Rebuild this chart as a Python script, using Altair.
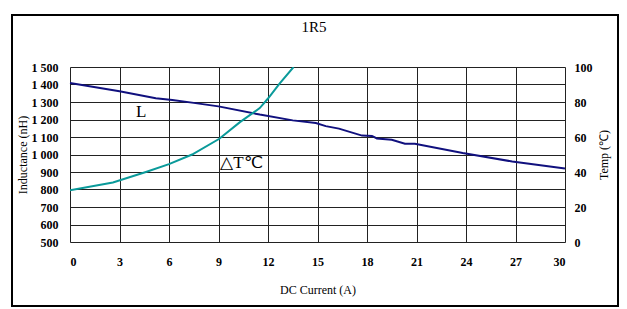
import json
import altair as alt
import pandas as pd

# ---- data ----
l_current = [0, 3, 5.2, 6.2, 7.5, 9, 11.5, 13.5, 14.9, 15.5, 16.3, 17.7, 18.3, 18.6, 19.5, 20.3, 20.9, 23.8, 26.8, 30]
l_induct = [1408, 1362, 1322, 1312, 1295, 1275, 1228, 1195, 1180, 1162, 1148, 1108, 1106, 1092, 1084, 1062, 1061, 1008, 960, 920]

t_current = [0, 2.6, 4.6, 6.0, 7.4, 9.05, 10.3, 11.5, 12.0, 12.7, 13.55]
t_temp = [29.5, 34, 40, 44.5, 50, 59, 68.5, 76.5, 82, 90.5, 100]

x_ticks = [0, 3, 6, 9, 12, 15, 18, 21, 24, 27, 30]
y_ticks = [500, 600, 700, 800, 900, 1000, 1100, 1200, 1300, 1400, 1500]
y_labels = ["500", "600", "700", "800", "900", "1 000", "1 100", "1 200", "1 300", "1 400", "1 500"]
t_ticks = [0, 20, 40, 60, 80, 100]

ann_text = ["L", "△T℃"]
ann_x = [4.0, 9.1]
ann_y = [1214, 923]

chart_title = "1R5"

FONT = "Liberation Serif"
NAVY = "#10107e"
TEAL = "#0a9a9a"

l_df = pd.DataFrame({"I": l_current, "L": l_induct})
t_df = pd.DataFrame({"I": t_current, "T": t_temp})
a_df = pd.DataFrame({"I": ann_x, "L": ann_y, "txt": ann_text})

xscale = alt.Scale(domain=[0, 30], nice=False, zero=False)
lscale = alt.Scale(domain=[500, 1500], nice=False, zero=False)

xaxis = alt.Axis(values=x_ticks, title="DC Current (A)", grid=True, gridColor="#222222",
                 gridOpacity=1, domain=False, ticks=False, labelFont=FONT, labelFontSize=12,
                 labelFontWeight="bold", labelColor="black", labelPadding=14, labelOverlap=False,
                 titleFont=FONT, titleFontSize=12, titleFontWeight="normal", titleColor="black",
                 titleY=47, titleBaseline="middle")

label_expr = json.dumps(y_labels) + "[round((datum.value-500)/100)]"
yaxis = alt.Axis(values=y_ticks, labelExpr=label_expr, title="Inductance (nH)", grid=True,
                 gridColor="#222222", gridOpacity=1, domain=False, ticks=False,
                 labelFont=FONT, labelFontSize=12, labelFontWeight="bold", labelColor="black",
                 labelPadding=12, labelOverlap=False, titleFont=FONT, titleFontSize=12,
                 titleFontWeight="normal", titleColor="black", titleX=-48, titleY=87.5,
                 titleBaseline="middle", titleAngle=-90, orient="left")

taxis = alt.Axis(values=t_ticks, orient="right", title="Temp (℃)", grid=False, domain=False,
                 ticks=False, labelFont=FONT, labelFontSize=12, labelFontWeight="bold",
                 labelColor="black", labelPadding=9, labelOverlap=False, titleFont=FONT,
                 titleFontSize=12, titleFontWeight="normal", titleColor="black", titleX=38,
                 titleY=87.5, titleBaseline="middle", titleAngle=-90)

l_line = alt.Chart(l_df).mark_line(color=NAVY, strokeWidth=2).encode(
    x=alt.X("I:Q", scale=xscale, axis=xaxis),
    y=alt.Y("L:Q", scale=lscale, axis=yaxis),
)

t_line = alt.Chart(t_df).mark_line(color=TEAL, strokeWidth=2, clip=True).encode(
    x=alt.X("I:Q", scale=xscale, axis=xaxis),
    y=alt.Y("T:Q", scale=alt.Scale(domain=[0, 100], nice=False), axis=taxis),
)

ann = alt.Chart(a_df).mark_text(font=FONT, fontSize=17, align="left", baseline="alphabetic",
                                color="black").encode(
    x=alt.X("I:Q", scale=xscale, axis=xaxis),
    y=alt.Y("L:Q", scale=lscale, axis=None),
    text="txt:N",
)

frame = alt.Chart(pd.DataFrame({"t": [chart_title]}))
border = frame.mark_rect(filled=False, stroke="black", strokeWidth=2, clip=False).encode(
    x=alt.value(-58), x2=alt.value(548), y=alt.value(-52), y2=alt.value(239),
)
title_mark = frame.mark_text(font=FONT, fontSize=15, color="black", align="center",
                             baseline="middle").encode(
    x=alt.value(244), y=alt.value(-40), text="t:N",
)

chart = alt.layer(l_line, t_line, ann, border, title_mark).resolve_scale(
    y="independent"
).properties(
    width=495, height=175,
    autosize=alt.AutoSizeParams(type="none"),
    padding={"left": 62, "top": 59, "right": 54, "bottom": 66},
).configure_view(stroke="black", strokeWidth=1.5).configure(background="white")

chart.save("out.html", embed_options={"renderer": "svg", "actions": False})
